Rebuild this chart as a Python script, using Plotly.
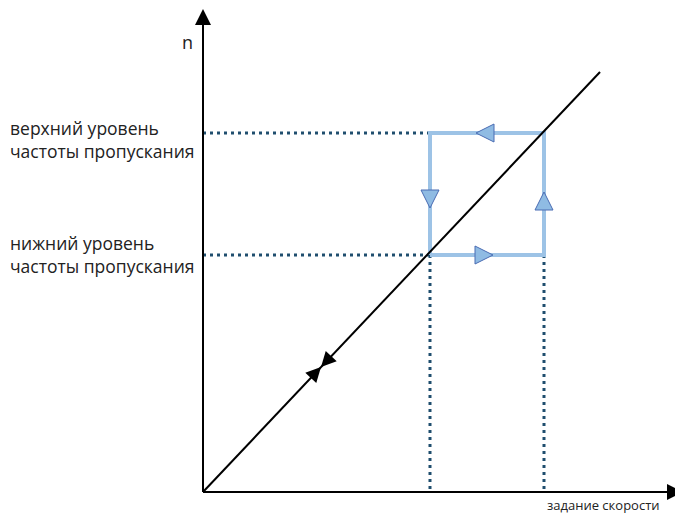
import plotly.graph_objects as go

# values (units ~ pixels from origin)
speed_low, speed_high = 227, 341          # задание скорости
n_low, n_high = 237, 359                  # частота пропускания
line_x = [0, 397]
line_y = [0, 420]
x_axis_end = 480
y_axis_end = 483

# hysteresis loop path
loop_x = [speed_low, speed_high, speed_high, speed_low, speed_low]
loop_y = [n_low, n_low, n_high, n_high, n_low]

# arrow markers on the loop (tip positions)
loop_arrow_x = [290, 341, 273, 227]
loop_arrow_y = [n_low, 300, n_high, 284]
loop_arrow_sym = ["arrow-right", "arrow-up", "arrow-left", "arrow-down"]

# bow-tie on the diagonal (both tips meet here)
bow_x = [118, 118]
bow_y = [125, 125]
bow_angle = [223, 43]

dot_color = "#1f4e6e"
loop_color = "#9dc3e6"
font = "Open Sans"

fig = go.Figure()

# dotted guides
for xs, ys in [
    ([0, speed_low], [n_high, n_high]),
    ([0, speed_low], [n_low, n_low]),
    ([speed_low, speed_low], [n_low, 0]),
    ([speed_high, speed_high], [n_low, 0]),
]:
    fig.add_trace(go.Scatter(x=xs, y=ys, mode="lines",
                             line=dict(color=dot_color, width=3, dash="3px,4px"),
                             hoverinfo="skip"))

# axes
fig.add_trace(go.Scatter(x=[0, x_axis_end - 10], y=[0, 0], mode="lines",
                         line=dict(color="black", width=2), hoverinfo="skip"))
fig.add_trace(go.Scatter(x=[0, 0], y=[0, y_axis_end - 10], mode="lines",
                         line=dict(color="black", width=2), hoverinfo="skip"))
fig.add_trace(go.Scatter(x=[x_axis_end, 0], y=[0, y_axis_end], mode="markers",
                         marker=dict(symbol=["arrow-right", "arrow-up"],
                                     size=16, color="black"),
                         cliponaxis=False, hoverinfo="skip"))

# loop
fig.add_trace(go.Scatter(x=loop_x, y=loop_y, mode="lines",
                         line=dict(color=loop_color, width=4), hoverinfo="skip"))

# diagonal
fig.add_trace(go.Scatter(x=line_x, y=line_y, mode="lines",
                         line=dict(color="black", width=2), hoverinfo="skip"))

fig.add_trace(go.Scatter(x=loop_arrow_x, y=loop_arrow_y, mode="markers",
                         marker=dict(symbol=loop_arrow_sym, size=18, color="#8fbbe3",
                                     line=dict(color="#4a6cb3", width=1)),
                         hoverinfo="skip"))

fig.add_trace(go.Scatter(x=bow_x, y=bow_y, mode="markers",
                         marker=dict(symbol="arrow-up", size=15, color="black",
                                     angle=bow_angle),
                         hoverinfo="skip"))

texts = [
    dict(x=-7, y=353, text="верхний уровень<br>частоты пропускания"),
    dict(x=-7, y=238, text="нижний уровень<br>частоты пропускания"),
]
for t in texts:
    fig.add_annotation(x=t["x"], y=t["y"], text=t["text"], showarrow=False,
                       xanchor="right", yanchor="middle", align="left",
                       font=dict(family=font, size=17.5, color="#222"))
fig.add_annotation(x=-16, y=450, text="n", showarrow=False,
                   font=dict(family=font, size=18, color="#222"))
fig.add_annotation(x=400, y=-13, text="задание скорости", showarrow=False,
                   font=dict(family=font, size=13, color="#222"))

# page has an 8px body margin, so the figure is 8px smaller on each side
fig.update_layout(
    width=675, height=509,
    margin=dict(l=0, r=0, t=0, b=0),
    paper_bgcolor="white", plot_bgcolor="white",
    showlegend=False,
    xaxis=dict(range=[-195, 480], visible=False),
    yaxis=dict(range=[-25, 484], visible=False),
)

fig.write_html("out.html")
